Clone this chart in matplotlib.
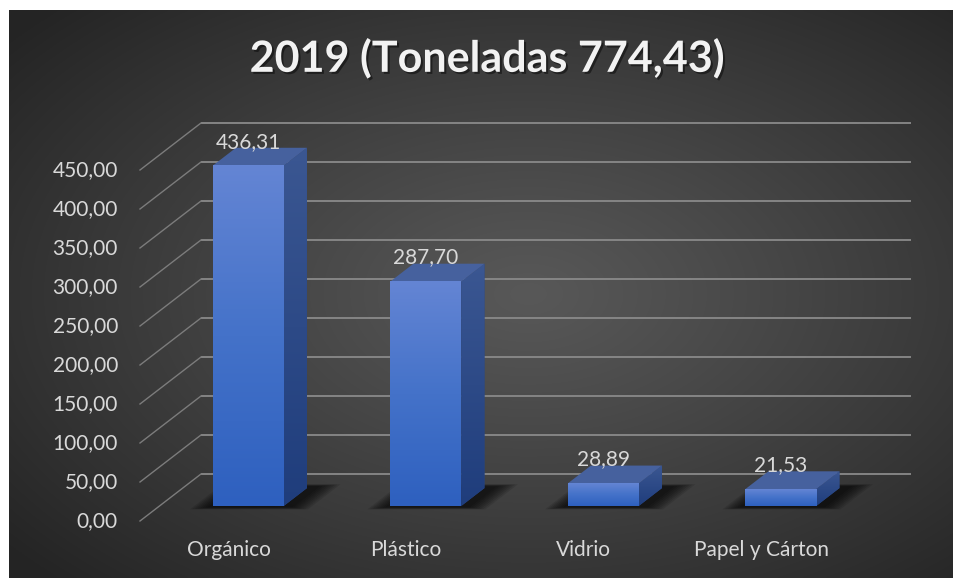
import numpy as np
import matplotlib
matplotlib.use("Agg")
import matplotlib.pyplot as plt
from matplotlib.patches import Polygon
from matplotlib.colors import LinearSegmentedColormap
import matplotlib.patheffects as pe

# ---- data -------------------------------------------------------------
categories = ["Orgánico", "Plástico", "Vidrio", "Papel y Cárton"]
values = [436.31, 287.70, 28.89, 21.53]
y_ticks = [0, 50, 100, 150, 200, 250, 300, 350, 400, 450]
title = "2019 (Toneladas 774,43)"


def fmt(v):
    return f"{v:.2f}".replace(".", ",")


# ---- layout (pixels) --------------------------------------------------
W, H, DPI = 954, 579, 100
WALL_LEFT, WALL_RIGHT = 201, 911      # back wall horizontal span
WALL_Y0, WALL_YTOP = 474, 123         # back wall y for 0 and top tick (from top)
DEPTH_DX, DEPTH_DY = 61, 47           # floor depth projection
BAR_FRONT_D, BAR_BACK_D = 0.68, 0.30  # bar depth positions (0 = wall, 1 = front)
BAR_W = 0.40

FONT = "Lato"
TXT = "#d9d9d9"
GRID = "#8a8a8a"

fig = plt.figure(figsize=(W / DPI, H / DPI), dpi=DPI, facecolor="white")

# dark radial background
bg = fig.add_axes([9 / W, 1 / H, (W - 9) / W, 568 / H])
bg.set_axis_off()
ny, nx = 300, 500
yy, xx = np.mgrid[0:1:ny * 1j, 0:1:nx * 1j]
r = np.sqrt(((xx - 0.55) / 0.72) ** 2 + ((yy - 0.5) / 0.72) ** 2)
t = np.clip(r / 0.98, 0, 1) ** 1.1
lum = 0.345 + (0.145 - 0.345) * t
bg.imshow(np.dstack([lum, lum, lum]), extent=(0, 1, 0, 1), aspect="auto",
          interpolation="bilinear")
bg.set_xlim(0, 1)
bg.set_ylim(0, 1)

# main axes: back wall in data coordinates, depth by oblique projection
ax = fig.add_axes([0, 0, 1, 1])
ax.patch.set_alpha(0)
ax.set_axis_off()
n = len(categories)
top_val = y_ticks[-1]
sx = (WALL_RIGHT - WALL_LEFT) / n
sy = (WALL_Y0 - WALL_YTOP) / top_val
kx = DEPTH_DX / sx
kv = DEPTH_DY / sy


def proj(x, v, d):
    return x - d * kx, v - d * kv


# gridlines, floor diagonals and value-axis labels
for tv in y_ticks:
    ax.plot([-0.5, n - 0.5], [tv, tv], color=GRID, lw=1.3, zorder=1,
            solid_capstyle="butt")
    x0, y0 = proj(-0.5, tv, 0)
    x1, y1 = proj(-0.5, tv, 1)
    ax.plot([x1, x0], [y1, y0], color="#7c7c7c", lw=1.0, zorder=1)
    ax.annotate(fmt(tv), xy=(x1, y1), xytext=(-22, 0),
                textcoords="offset pixels", ha="right", va="center",
                fontsize=15, color=TXT, family=FONT)

front_cmap = LinearSegmentedColormap.from_list("front", ["#2e60bf", "#4472c9", "#6485d4"])
side_cmap = LinearSegmentedColormap.from_list("side", ["#1f3d7c", "#3b5792"])
grad = np.linspace(0, 1, 256).reshape(-1, 1)

for i, (cat, v) in enumerate(zip(categories, values)):
    xl, xr = i - BAR_W / 2, i + BAR_W / 2

    def F(x, val):
        return proj(x, val, BAR_FRONT_D)

    def B(x, val):
        return proj(x, val, BAR_BACK_D)

    # soft shadow on the floor
    for k in range(8):
        m = 0.012 * k
        d_front = BAR_FRONT_D + 0.03 + m * 0.5
        d_back = BAR_BACK_D - 0.04 - m * 0.5
        pts = [proj(xl - 0.02 - m, 0, d_front),
               proj(xr + 0.06 + m * 1.2, 0, d_front),
               proj(xr + 0.06 + m * 1.2, 0, d_back),
               proj(xl - 0.02 - m, 0, d_back)]
        ax.add_patch(Polygon(pts, closed=True, facecolor="black",
                             edgecolor="none", alpha=0.11, zorder=2))

    # side face
    side = Polygon([F(xr, 0), F(xr, v), B(xr, v), B(xr, 0)], closed=True,
                   facecolor="#2a4886", edgecolor="none", zorder=3)
    ax.add_patch(side)
    sxs = [F(xr, 0)[0], B(xr, 0)[0]]
    sys_ = [F(xr, 0)[1], B(xr, v)[1]]
    im = ax.imshow(grad, cmap=side_cmap, origin="lower", aspect="auto",
                   extent=(min(sxs), max(sxs), min(sys_), max(sys_)), zorder=3.1)
    im.set_clip_path(side)

    # top face
    ax.add_patch(Polygon([F(xl, v), F(xr, v), B(xr, v), B(xl, v)], closed=True,
                         facecolor="#46619e", edgecolor="none", zorder=3.2))

    # front face
    fx0, fy0 = F(xl, 0)
    fx1, fy1 = F(xr, v)
    ax.imshow(grad, cmap=front_cmap, origin="lower", aspect="auto",
              extent=(fx0, fx1, fy0, fy1), zorder=3.3)

    # value label
    ax.annotate(fmt(v), xy=F(i, v), xytext=(0, 18), textcoords="offset pixels",
                ha="center", va="baseline", fontsize=15, color=TXT,
                family=FONT, zorder=5)

    # category label
    ax.annotate(cat, xy=proj(i, 0, 1), xytext=(0, -29),
                textcoords="offset pixels", ha="center", va="center",
                fontsize=15, color=TXT, family=FONT, zorder=5)

ax.set_xlim(-0.5 - WALL_LEFT / sx, -0.5 + (W - WALL_LEFT) / sx)
ax.set_ylim(-(H - WALL_Y0) / sy, WALL_Y0 / sy)

fig.text(487 / W, 1 - 58 / H, title, ha="center", va="center",
         fontsize=31, fontweight="bold", color="#f2f2f2", family=FONT,
         path_effects=[pe.withSimplePatchShadow(offset=(1.5, -1.5),
                                                shadow_rgbFace="black",
                                                alpha=0.45)])

fig.savefig("out.png", dpi=DPI, facecolor="white")
